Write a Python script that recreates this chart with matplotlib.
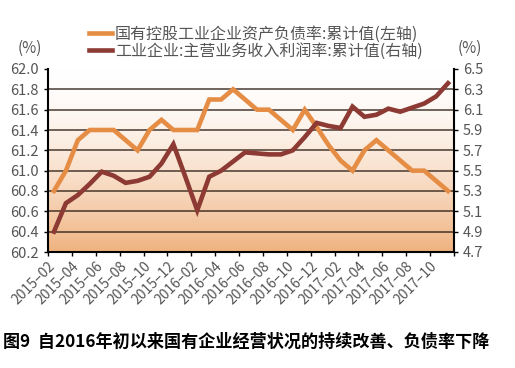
import numpy as np
import matplotlib.pyplot as plt

plt.rcParams['font.family'] = ['Noto Sans CJK SC', 'DejaVu Sans']

# monthly, 2015-02 .. 2017-11
months = ['2015-02', '2015-03', '2015-04', '2015-05', '2015-06', '2015-07', '2015-08',
          '2015-09', '2015-10', '2015-11', '2015-12', '2016-01', '2016-02', '2016-03',
          '2016-04', '2016-05', '2016-06', '2016-07', '2016-08', '2016-09', '2016-10',
          '2016-11', '2016-12', '2017-01', '2017-02', '2017-03', '2017-04', '2017-05',
          '2017-06', '2017-07', '2017-08', '2017-09', '2017-10', '2017-11']

debt_ratio = [60.8, 61.0, 61.3, 61.4, 61.4, 61.4, 61.3, 61.2, 61.4, 61.5, 61.4, 61.4,
              61.4, 61.7, 61.7, 61.8, 61.7, 61.6, 61.6, 61.5, 61.4, 61.6, 61.43, 61.25,
              61.1, 61.0, 61.2, 61.3, 61.2, 61.1, 61.0, 61.0, 60.9, 60.8]

profit_margin = [4.90, 5.18, 5.26, 5.37, 5.49, 5.45, 5.38, 5.40, 5.44, 5.57, 5.76, 5.44,
                 5.11, 5.44, 5.50, 5.59, 5.68, 5.67, 5.66, 5.66, 5.70, 5.83, 5.97, 5.94,
                 5.92, 6.13, 6.03, 6.05, 6.11, 6.08, 6.12, 6.16, 6.23, 6.36]

tick_labels = [m.replace('-', '–') for m in months[::2]]
left_ticks = [60.2, 60.4, 60.6, 60.8, 61.0, 61.2, 61.4, 61.6, 61.8, 62.0]
right_ticks = [4.7, 4.9, 5.1, 5.3, 5.5, 5.7, 5.9, 6.1, 6.3, 6.5]

orange = '#e58c45'
darkred = '#8c3a33'
grey = '#555555'

fig = plt.figure(figsize=(5.15, 3.68), dpi=100)
ax = fig.add_axes([48/515, 1-252/368, 406/515, 183/368])
ax2 = ax.twinx()

# background gradient, white at top -> peach at bottom
grad = np.linspace(0, 1, 256) ** 1.6
cols = np.array([1.0, 1.0, 1.0])[None, :] * (1 - grad[:, None]) + \
    np.array([0.94, 0.70, 0.50])[None, :] * grad[:, None]
ax.imshow(cols[:, None, :], extent=[0, 1, 0, 1], transform=ax.transAxes,
          aspect='auto', zorder=0)

x = np.arange(len(months))
ax.set_xlim(-0.5, len(months) - 0.5)
ax.set_ylim(60.2, 62.0)
ax2.set_ylim(4.7, 6.5)

for yv in left_ticks[1:-1]:
    ax.axhline(yv, color='#2a1a10', lw=1.1, alpha=0.85, zorder=1)

ax.plot(x, debt_ratio, color=orange, lw=3.3, zorder=3, solid_joinstyle='miter',
        label='国有控股工业企业资产负债率:累计值(左轴)')
ax2.plot(x, profit_margin, color=darkred, lw=3.3, zorder=3, solid_joinstyle='miter',
         label='工业企业:主营业务收入利润率:累计值(右轴)')

ax.set_yticks(left_ticks)
ax.set_yticklabels([f'{v:.1f}' for v in left_ticks])
ax2.set_yticks(right_ticks)
ax2.set_yticklabels([f'{v:.1f}' for v in right_ticks])

xt = np.arange(-0.5, len(months), 2)
ax.set_xticks(xt)
ax.set_xticklabels(tick_labels + [''] * (len(xt) - len(tick_labels)),
                   rotation=45, ha='right', rotation_mode='anchor')

for a in (ax, ax2):
    for s in a.spines.values():
        s.set_visible(False)
    a.tick_params(colors='black', labelcolor=grey, labelsize=10.5, length=3, width=1)
ax.spines['left'].set_visible(True)
ax.spines['bottom'].set_visible(True)
ax2.spines['right'].set_visible(True)
ax.spines['left'].set_linewidth(1.5)
ax.spines['bottom'].set_linewidth(1.5)
ax2.spines['right'].set_linewidth(1.5)
ax.tick_params(axis='x', labelsize=10, pad=2)

fig.text(30/515, 1-48/368, '(%)', ha='center', va='center', color=grey, fontsize=11)
fig.text(470/515, 1-48/368, '(%)', ha='center', va='center', color=grey, fontsize=11)

h1, l1 = ax.get_legend_handles_labels()
h2, l2 = ax2.get_legend_handles_labels()
fig.legend(h1 + h2, l1 + l2, loc='center', bbox_to_anchor=(256/515, 1-43/368),
           frameon=False, fontsize=11.5, handlelength=1.4, handletextpad=0.2,
           labelspacing=0.0, labelcolor=grey, borderpad=0)

fig.text(3/515, 1-342/368, '图9  自2016年初以来国有企业经营状况的持续改善、负债率下降',
         ha='left', va='center', fontsize=12.3, fontweight='bold', color='black')

fig.savefig('out.png', dpi=100)
